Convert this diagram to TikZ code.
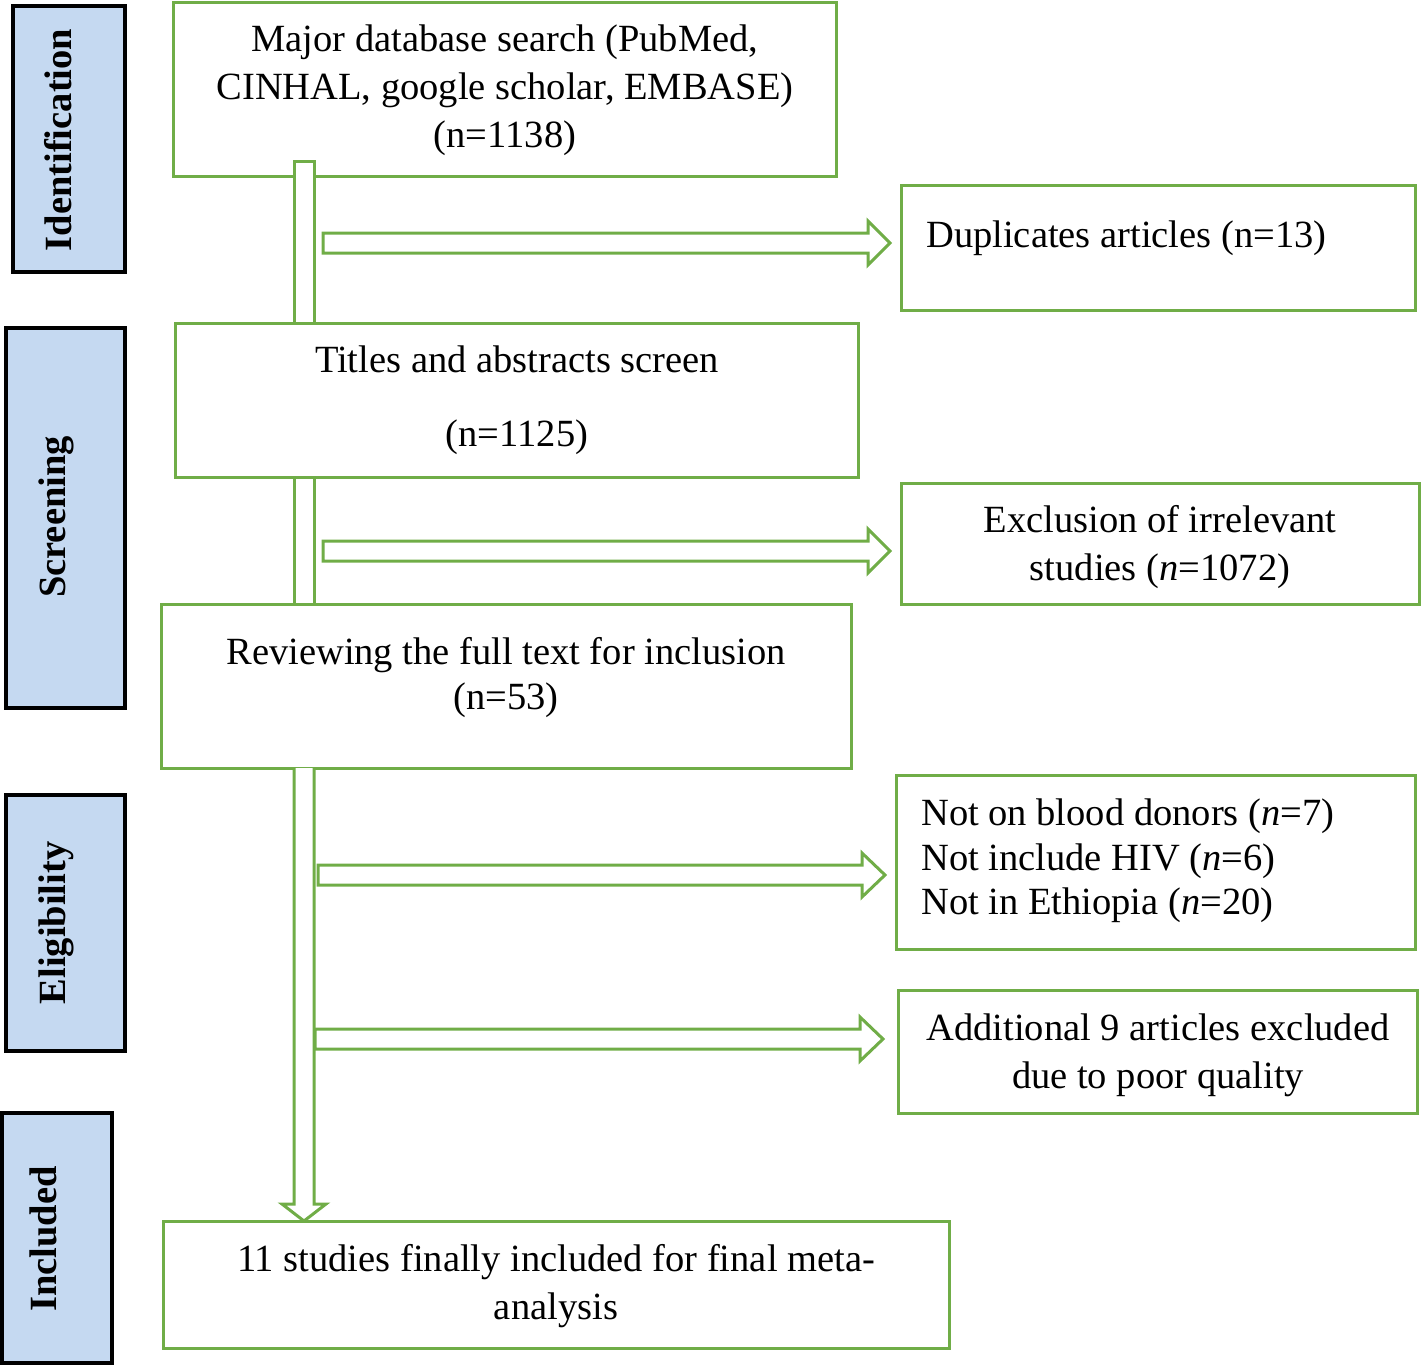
\documentclass[tikz,border=0pt]{standalone}
\usepackage{fontspec}
\setmainfont{Liberation Serif}
\definecolor{boxgreen}{RGB}{112,173,71}
\definecolor{sideblue}{RGB}{197,217,241}
\begin{document}
\begin{tikzpicture}[x=1pt,y=-1pt,
  gbox/.style={draw=boxgreen, line width=3pt, fill=white, rectangle, inner sep=0pt},
  sidebox/.style={draw=black, line width=3.5pt, fill=sideblue, rectangle, inner sep=0pt},
  sidelabel/.style={rotate=90, anchor=base, inner sep=0pt, font=\fontsize{38.5}{46}\selectfont\bfseries},
  txt/.style={inner sep=0pt, font=\fontsize{38.5}{48}\selectfont},
  blockarrow/.style={draw=boxgreen, line width=3pt, fill=white, line join=miter}]
\useasboundingbox (0,0) rectangle (1421,1365);

% side stage boxes
\node[sidebox, minimum width=112pt, minimum height=266pt] (sid) at (69,139) {};
\node[sidelabel] (lid) at (71,140) {Identification};
\node[sidebox, minimum width=119pt, minimum height=380pt] (sscr) at (65.5,518) {};
\node[sidelabel] (lscr) at (65,517) {Screening};
\node[sidebox, minimum width=119pt, minimum height=256pt] (selg) at (65.5,923) {};
\node[sidelabel] (lelg) at (65,923) {Eligibility};
\node[sidebox, minimum width=110pt, minimum height=250pt] (sinc) at (57,1238) {};
\node[sidelabel] (linc) at (56,1239) {Included};

% main boxes and vertical shafts (drawing order matters)
\node[gbox, minimum width=663pt, minimum height=174pt] (search) at (504.5,89) {};
\draw[blockarrow] (294,161) rectangle (314,323);
\node[gbox, minimum width=683pt, minimum height=154pt] (title) at (516.5,400) {};
\draw[blockarrow] (294,477) rectangle (314,604);
\node[gbox, minimum width=690pt, minimum height=164pt] (review) at (506,686) {};
\draw[blockarrow] (294,768) -- (294,1204) -- (282,1204) -- (304,1221) -- (326,1204) -- (314,1204) -- (314,768);
\node[gbox, minimum width=786pt, minimum height=127pt] (final) at (556,1284.5) {};

\node[gbox, minimum width=514pt, minimum height=125pt] (dup) at (1158,247.5) {};
\node[gbox, minimum width=518pt, minimum height=121pt] (excl) at (1160,543.5) {};
\node[gbox, minimum width=519pt, minimum height=174pt] (notb) at (1155.5,862) {};
\node[gbox, minimum width=519pt, minimum height=123pt] (addl) at (1157.5,1051.5) {};

% horizontal block arrows
\draw[blockarrow] (323,233) -- (868,233) -- (868,221) -- (890,243) -- (868,265) -- (868,253) -- (323,253) -- cycle;
\draw[blockarrow] (323,541) -- (868,541) -- (868,529) -- (890,551) -- (868,573) -- (868,561) -- (323,561) -- cycle;
\draw[blockarrow] (318,865) -- (862,865) -- (862,853) -- (885,875) -- (862,897) -- (862,885) -- (318,885) -- cycle;
\draw[blockarrow] (315,1029) -- (860,1029) -- (860,1017) -- (883,1039) -- (860,1061) -- (860,1049) -- (315,1049) -- cycle;

% texts
\node[txt, align=center] (tsearch) at (505,90) {Major database search (PubMed,\\CINHAL, google scholar, EMBASE)\\(n=1138)};
\node[txt, anchor=west] (tdup) at (926,238) {Duplicates articles (n=13)};
\node[txt, align=center] (ttitle) at (517,400) {Titles and abstracts screen\\[26pt](n=1125)};
\node[txt, align=center] (texcl) at (1160,547) {Exclusion of irrelevant\\studies (\textit{n}=1072)};
\node[txt, align=center, font=\fontsize{38.5}{45}\selectfont] (treview) at (506,678) {Reviewing the full text for inclusion\\(n=53)};
\node[txt, align=left, anchor=west, font=\fontsize{38.5}{44.5}\selectfont] (tnotb) at (921,861) {Not on blood donors (\textit{n}=7)\\Not include HIV (\textit{n}=6)\\Not in Ethiopia (\textit{n}=20)};
\node[txt, align=center] (taddl) at (1158,1055) {Additional 9 articles excluded\\due to poor quality};
\node[txt, align=center] (tfinal) at (556,1286) {11 studies finally included for final meta-\\analysis};
\end{tikzpicture}
\end{document}
